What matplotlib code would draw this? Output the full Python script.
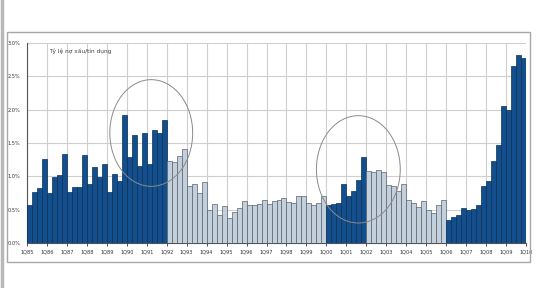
import matplotlib
matplotlib.use("Agg")
import matplotlib.pyplot as plt
from matplotlib.patches import Ellipse, Rectangle
from matplotlib.lines import Line2D

# quarterly ratio, 1Q85 .. 4Q09 (percent)
values = [
    0.575, 0.765, 0.825, 1.26, 0.75, 0.985, 1.015, 1.335,
    0.765, 0.835, 0.84, 1.315, 0.885, 1.14, 0.99, 1.185,
    0.765, 1.035, 0.935, 1.915, 1.285, 1.625, 1.15, 1.65,
    1.185, 1.70, 1.65, 1.85,
    1.225, 1.21, 1.30, 1.41, 0.85, 0.885, 0.75, 0.915,
    0.50, 0.59, 0.425, 0.55, 0.375, 0.46, 0.525, 0.625,
    0.575, 0.575, 0.58, 0.65, 0.585, 0.625, 0.65, 0.675,
    0.61, 0.60, 0.70, 0.70, 0.60, 0.565, 0.60, 0.70,
    0.575, 0.585, 0.60, 0.89, 0.70, 0.785, 0.94, 1.285,
    1.075, 1.06, 1.09, 1.06, 0.87, 0.85, 0.775, 0.89,
    0.65, 0.60, 0.535, 0.625, 0.50, 0.45, 0.575, 0.65,
    0.34, 0.39, 0.425, 0.525, 0.50, 0.515, 0.575, 0.85,
    0.935, 1.225, 1.475, 2.05, 2.00, 2.65, 2.825, 2.775,
]
# highlighted (dark) periods as [start, end) quarter indices
highlight_spans = [(0, 28), (60, 68), (84, 100)]
year_labels = ["1Q%02d" % (y % 100) for y in range(1985, 2011)]
y_ticks = [0.0, 0.5, 1.0, 1.5, 2.0, 2.5, 3.0]
title_text = "Tỷ lệ nợ xấu/tín dụng"

DARK = "#124f8c"
DARK_EDGE = "#0b2f57"
LIGHT = "#c3d0dc"
LIGHT_EDGE = "#56626e"
GRID = "#cfcfcf"

fig = plt.figure(figsize=(5.38, 2.88), dpi=100)
fig.patch.set_facecolor("white")

# outer frame and left strip
fig.add_artist(Rectangle((7 / 538, 1 - 262 / 288), 523 / 538, 230 / 288,
                         transform=fig.transFigure, fill=False,
                         edgecolor="#a8a8a8", linewidth=1.0))
fig.add_artist(Line2D([2 / 538, 2 / 538], [0, 1], transform=fig.transFigure,
                      color="#b8b8b8", linewidth=2.5))

ax = fig.add_axes([27 / 538, 1 - 243 / 288, 499 / 538, 200 / 288])

def is_dark(i):
    return any(a <= i < b for a, b in highlight_spans)

xs = [i + 0.5 for i in range(len(values))]
colors = [DARK if is_dark(i) else LIGHT for i in range(len(values))]
edges = [DARK_EDGE if is_dark(i) else LIGHT_EDGE for i in range(len(values))]
ax.bar(xs, values, width=1.0, color=colors, edgecolor=edges, linewidth=0.5, zorder=3)

ax.set_xlim(0, len(values))
ax.set_ylim(0, 3.0)
ax.set_xticks([4 * k for k in range(len(year_labels))])
ax.set_xticklabels(year_labels, fontsize=3.6, color="#333333")
ax.set_yticks(y_ticks)
ax.set_yticklabels(["%.1f%%" % v for v in y_ticks], fontsize=3.6, color="#333333")
ax.tick_params(axis="x", length=2, width=0.6, pad=3, color="#333333")
ax.tick_params(axis="y", length=0, pad=5)
ax.grid(True, color=GRID, linewidth=0.8, zorder=0)

for s in ("top", "right"):
    ax.spines[s].set_visible(False)
ax.spines["left"].set_color("#555555")
ax.spines["bottom"].set_color("#555555")
ax.spines["left"].set_linewidth(0.8)
ax.spines["bottom"].set_linewidth(0.8)

ax.text(0.045, 0.975, title_text, transform=ax.transAxes, fontsize=4.2,
        color="#444444", va="top", ha="left")

# circled episodes
ax.add_patch(Ellipse((24.9, 1.65), 16.6, 1.6, fill=False, edgecolor="#8a8a8a",
                     linewidth=0.7, zorder=4))
ax.add_patch(Ellipse((66.4, 1.105), 16.8, 1.61, fill=False, edgecolor="#8a8a8a",
                     linewidth=0.7, zorder=4))

fig.savefig("out.png", dpi=100, facecolor="white")
